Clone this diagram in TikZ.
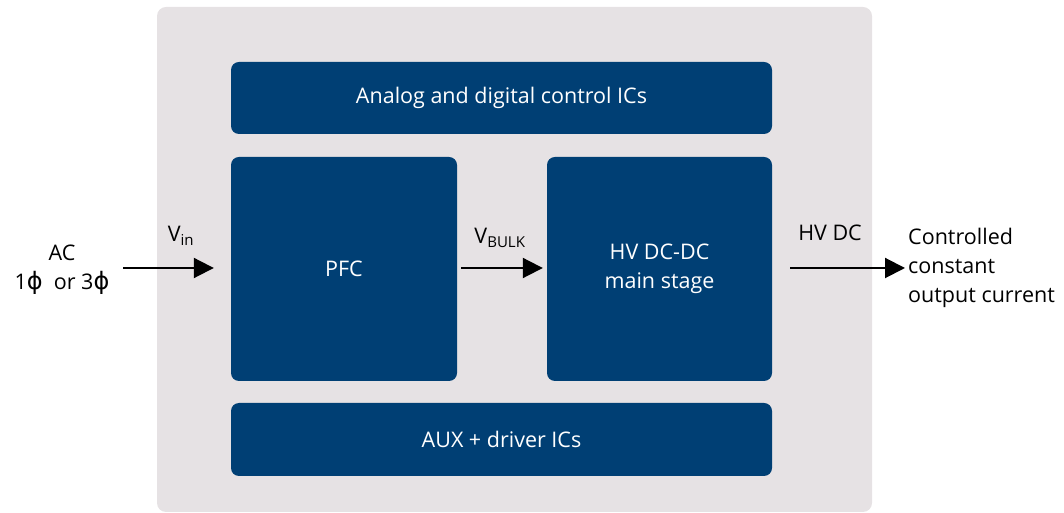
\documentclass[tikz,border=0pt]{standalone}
\usepackage{fontspec}
\setmainfont{Open Sans}
\newfontfamily\phifont{DejaVu Sans}
\usetikzlibrary{arrows.meta}
\definecolor{boxblue}{HTML}{003F74}
\definecolor{framegray}{HTML}{E6E2E4}
\newcommand{\ph}{{\phifont\fontsize{24}{29}\selectfont ϕ}}

\begin{document}
\begin{tikzpicture}[x=1pt,y=1pt,font=\fontsize{21.5}{29}\selectfont,
  block/.style={fill=boxblue,rounded corners=8pt,text=white,align=center,inner sep=0pt},
  flow/.style={line width=2pt,-{Triangle[length=20pt,width=20pt]}},
  label/.style={align=center,inner sep=0pt}]
\useasboundingbox (0,0) rectangle (1064,513);
\fill[framegray,rounded corners=9pt] (157,1) rectangle (872,506);
% blocks
\node[block,minimum width=541pt,minimum height=72pt] (ctrl) at (501.5,415) {Analog and digital control ICs};
\node[block,minimum width=226pt,minimum height=224pt] (pfc) at (344,244) {PFC};
\node[block,minimum width=225pt,minimum height=224pt] (dcdc) at (659.5,244) {HV DC-DC\\main stage};
\node[block,minimum width=541pt,minimum height=73pt] (aux) at (501.5,73.5) {AUX + driver ICs};
% signals
\coordinate (acin) at (123,245);
\coordinate (iout) at (905,245);
\draw[flow] (acin) -- ([xshift=-17pt]pfc.west|-acin);
\draw[flow] ([xshift=4pt]pfc.east|-acin) -- ([xshift=-4pt]dcdc.west|-acin);
\draw[flow] ([xshift=18pt]dcdc.east|-acin) -- (iout);
% labels
\node[label] (ac) at (62,260) {AC};
\node[label] (phase) at (62,230) {1\ph\ \ or 3\ph};
\node[label] (vin) at (181,277) {V\textsubscript{in}};
\node[label] (vbulk) at (500,275) {V\textsubscript{BULK}};
\node[label] (hvdc) at (830,280) {HV DC};
\node[label,anchor=west,align=left] (out) at (908,245) {Controlled\\constant\\output current};
\end{tikzpicture}
\end{document}
